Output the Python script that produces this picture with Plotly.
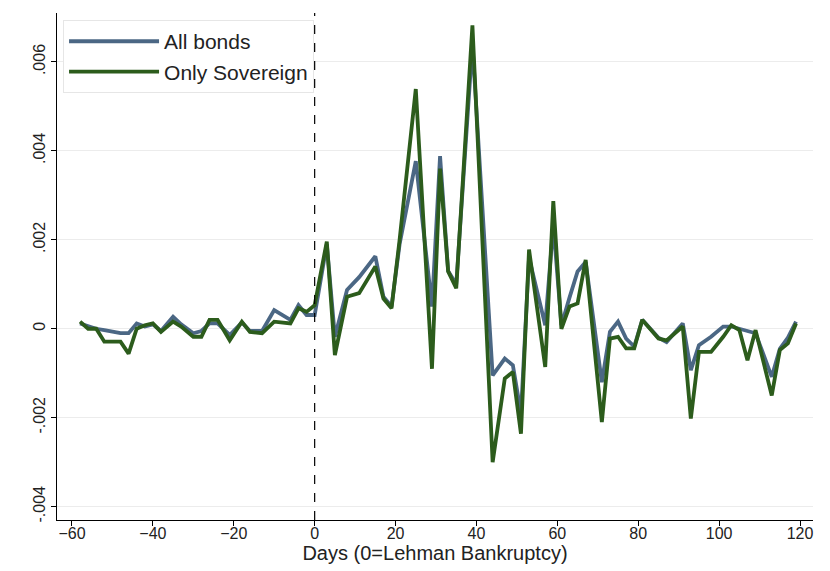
import plotly.graph_objects as go

# Days relative to Lehman bankruptcy
days = [-58, -56, -54, -52, -48, -46, -44, -42, -40, -38, -35, -33, -30, -28, -26, -24,
        -21, -18, -16, -13, -10, -6, -4, -2, 0,
        3, 5, 8, 11, 15, 17, 19, 21, 25, 29, 31, 33, 35, 39, 44, 47, 49, 51, 53, 57,
        59, 61, 63, 65, 67, 71, 73, 75, 77, 79, 81, 85, 87, 91, 93, 95, 98, 101, 103,
        105, 107, 109, 113, 115, 117, 119]

all_bonds = [0.00012, 0.00005, 0.0, -0.00003, -0.0001, -0.0001, 0.00012, 0.00005, 0.0001,
             -0.00005, 0.00027, 0.0001, -0.0001, -0.00005, 0.00012, 0.00012, -0.00014,
             0.00014, -0.00005, -0.00005, 0.00042, 0.0002, 0.00053, 0.00031, 0.00031,
             0.0019, -0.00018, 0.00087, 0.00116, 0.00163, 0.00072, 0.0005, 0.0019, 0.00377,
             0.0005, 0.00388, 0.0013, 0.001, 0.0064, -0.00105, -0.00067, -0.00082, -0.0019,
             0.0016, 0.00008, 0.00234, 0.00008, 0.0007, 0.00129, 0.0015, -0.0012, -0.00007,
             0.00016, -0.00022, -0.0004, 0.0002, -0.0002, -0.0003, 0.00012, -0.00093,
             -0.00037, -0.00018, 0.00005, 0.00005, 0.0, -0.00007, -0.0001, -0.00108,
             -0.00045, -0.0002, 0.00016]

only_sovereign = [0.00016, 0.0, 0.0, -0.00029, -0.00029, -0.00056, 0.0, 0.00008, 0.00012,
                  -0.00007, 0.00016, 0.00005, -0.00018, -0.00018, 0.0002, 0.0002, -0.00026,
                  0.00016, -0.00007, -0.0001, 0.00016, 0.00012, 0.00046, 0.00038, 0.00053,
                  0.00196, -0.00059, 0.00072, 0.0008, 0.0014, 0.00068, 0.00046, 0.002, 0.00539,
                  -0.0009, 0.0036, 0.00129, 0.00091, 0.00682, -0.003, -0.00112, -0.00097,
                  -0.00236, 0.00178, -0.00086, 0.00287, 0.0, 0.0005, 0.00057, 0.00155, -0.0021,
                  -0.00022, -0.00018, -0.00044, -0.00044, 0.0002, -0.00022, -0.00026, 0.00005,
                  -0.00202, -0.00052, -0.00052, -0.00018, 0.00008, -0.00003, -0.00071,
                  -0.00003, -0.0015, -0.00048, -0.00033, 0.00012]

x_ticks = [-60, -40, -20, 0, 20, 40, 60, 80, 100, 120]
y_ticks = [-0.004, -0.002, 0, 0.002, 0.004, 0.006]
y_ticklabels = ["-.004", "-.002", "0", ".002", ".004", ".006"]

series_names = ["All bonds", "Only Sovereign"]
series_colors = ["#4b6784", "#2c5c1c"]

fig = go.Figure()
for name, vals, col in zip(series_names, [all_bonds, only_sovereign], series_colors):
    fig.add_trace(go.Scatter(x=days, y=vals, mode="lines", name=name,
                             line=dict(color=col, width=3.8)))

fig.add_vline(x=0, line=dict(color="black", width=1.2, dash="dash"))

font_family = "Liberation Sans, Arial, sans-serif"
fig.update_layout(
    width=822, height=563,
    margin=dict(l=49, r=17, t=5, b=51),
    paper_bgcolor="white", plot_bgcolor="white",
    font=dict(family=font_family, size=16, color="#222222"),
    showlegend=True,
    legend=dict(x=0.008, y=0.986, xanchor="left", yanchor="top",
                bgcolor="white", bordercolor="#e6e6e6", borderwidth=1,
                font=dict(size=21, color="#222222"), itemwidth=90,
                tracegroupgap=0),
    xaxis=dict(range=[-63.7, 123.2], tickvals=x_ticks, ticks="outside", ticklen=5,
               tickcolor="black", showline=True, linecolor="black", linewidth=1.2,
               showgrid=False, zeroline=False, tickfont=dict(size=16),
               automargin=False, ticklabelstandoff=-6,
               title=dict(text="Days (0=Lehman Bankruptcy)", font=dict(size=20), standoff=4)),
    yaxis=dict(range=[-0.0043, 0.0071], tickvals=y_ticks, ticktext=y_ticklabels,
               ticks="outside", ticklen=5, tickcolor="black", showline=True,
               linecolor="black", linewidth=1.2, showgrid=True, gridcolor="#ececec",
               gridwidth=1, zeroline=False, tickangle=-90, tickfont=dict(size=16),
               automargin=False),
)

fig.write_html("out.html")
